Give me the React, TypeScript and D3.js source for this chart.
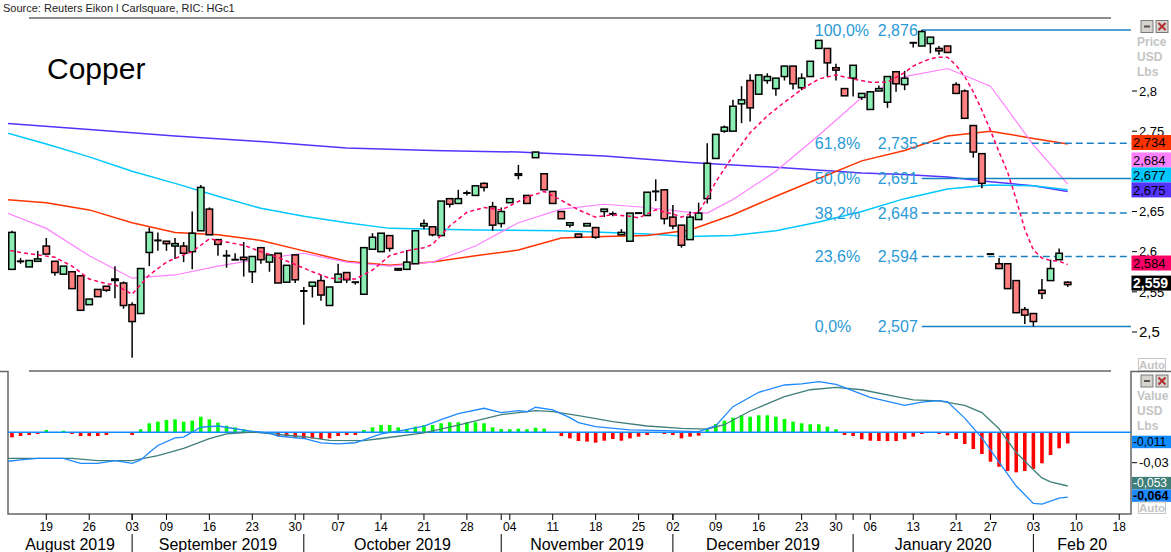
import React from "react";
import * as d3 from "d3";

const WIDTH = 1171;
const HEIGHT = 552;
const FONT = "'Liberation Sans', Arial, sans-serif";

// trading calendar (COMEX holidays skipped)
const calendarStart = "2019-08-12";
const calendarEnd = "2020-02-21";
const holidays = ["2019-09-02", "2019-11-28", "2019-12-25", "2020-01-01", "2020-01-20", "2020-02-17"];
const firstCandle = "2019-08-13";
// offsets in the indicator arrays count trading days from this date
const anchorDay = "2019-08-19";
const monthLabels = ["August 2019", "September 2019", "October 2019", "November 2019", "December 2019", "January 2020", "Feb 20"];

// HGc1 daily candles, USD/lb, from 2019-08-13
const open = [2.578, 2.588, 2.581, 2.588, 2.607, 2.588, 2.572, 2.575, 2.570, 2.534, 2.553, 2.557, 2.566, 2.561, 2.534, 2.523, 2.599, 2.614, 2.613, 2.607, 2.607, 2.600, 2.626, 2.653, 2.615, 2.595, 2.590, 2.593, 2.575, 2.605, 2.587, 2.598, 2.562, 2.596, 2.551, 2.557, 2.564, 2.533, 2.562, 2.574, 2.562, 2.547, 2.603, 2.600, 2.620, 2.577, 2.578, 2.585, 2.632, 2.631, 2.620, 2.666, 2.660, 2.673, 2.670, 2.685, 2.656, 2.635, 2.661, 2.697, 2.670, 2.717, 2.697, 2.675, 2.650, 2.633, 2.622, 2.632, 2.630, 2.650, 2.647, 2.621, 2.613, 2.648, 2.645, 2.675, 2.677, 2.643, 2.633, 2.615, 2.640, 2.666, 2.716, 2.750, 2.750, 2.784, 2.813, 2.796, 2.813, 2.803, 2.818, 2.831, 2.804, 2.818, 2.853, 2.853, 2.829, 2.803, 2.816, 2.792, 2.777, 2.800, 2.786, 2.824, 2.808, 2.860, 2.856, 2.859, 2.853, 2.856, 2.808, 2.800, 2.757, 2.722, 2.597, 2.585, 2.585, 2.564, 2.528, 2.523, 2.552, 2.564, 2.590, 2.562];
const high = [2.626, 2.592, 2.589, 2.601, 2.617, 2.588, 2.582, 2.575, 2.570, 2.541, 2.553, 2.557, 2.582, 2.563, 2.537, 2.579, 2.630, 2.624, 2.613, 2.617, 2.612, 2.650, 2.683, 2.655, 2.615, 2.602, 2.598, 2.612, 2.594, 2.605, 2.596, 2.598, 2.583, 2.596, 2.556, 2.562, 2.571, 2.556, 2.585, 2.574, 2.562, 2.605, 2.623, 2.623, 2.620, 2.579, 2.602, 2.626, 2.640, 2.631, 2.663, 2.666, 2.677, 2.676, 2.682, 2.686, 2.662, 2.655, 2.666, 2.708, 2.670, 2.724, 2.697, 2.675, 2.650, 2.636, 2.622, 2.635, 2.630, 2.653, 2.650, 2.628, 2.648, 2.648, 2.674, 2.690, 2.677, 2.658, 2.633, 2.650, 2.661, 2.735, 2.746, 2.757, 2.789, 2.806, 2.821, 2.820, 2.822, 2.816, 2.831, 2.831, 2.822, 2.837, 2.863, 2.853, 2.834, 2.803, 2.832, 2.797, 2.799, 2.807, 2.818, 2.824, 2.825, 2.860, 2.876, 2.867, 2.856, 2.856, 2.811, 2.802, 2.757, 2.722, 2.597, 2.592, 2.585, 2.564, 2.531, 2.523, 2.566, 2.590, 2.604, 2.563];
const low = [2.578, 2.585, 2.581, 2.588, 2.597, 2.570, 2.572, 2.554, 2.527, 2.534, 2.544, 2.550, 2.542, 2.529, 2.468, 2.523, 2.582, 2.601, 2.601, 2.591, 2.587, 2.578, 2.626, 2.621, 2.595, 2.580, 2.590, 2.569, 2.561, 2.585, 2.575, 2.561, 2.562, 2.561, 2.509, 2.543, 2.539, 2.533, 2.562, 2.561, 2.559, 2.547, 2.603, 2.600, 2.600, 2.577, 2.578, 2.585, 2.628, 2.619, 2.620, 2.655, 2.660, 2.670, 2.670, 2.675, 2.626, 2.630, 2.661, 2.690, 2.660, 2.717, 2.677, 2.660, 2.641, 2.630, 2.618, 2.632, 2.616, 2.643, 2.644, 2.621, 2.613, 2.648, 2.645, 2.663, 2.634, 2.628, 2.605, 2.615, 2.640, 2.660, 2.716, 2.748, 2.750, 2.760, 2.762, 2.796, 2.809, 2.794, 2.813, 2.802, 2.801, 2.818, 2.853, 2.818, 2.813, 2.794, 2.793, 2.789, 2.777, 2.800, 2.779, 2.799, 2.801, 2.854, 2.856, 2.847, 2.845, 2.848, 2.797, 2.766, 2.717, 2.679, 2.597, 2.579, 2.554, 2.524, 2.510, 2.507, 2.541, 2.564, 2.590, 2.556];
const close = [2.624, 2.588, 2.589, 2.591, 2.597, 2.574, 2.582, 2.554, 2.527, 2.541, 2.544, 2.552, 2.565, 2.533, 2.513, 2.579, 2.624, 2.614, 2.610, 2.610, 2.598, 2.623, 2.680, 2.621, 2.609, 2.595, 2.590, 2.590, 2.594, 2.590, 2.596, 2.561, 2.583, 2.565, 2.551, 2.562, 2.546, 2.556, 2.572, 2.565, 2.562, 2.605, 2.618, 2.623, 2.604, 2.579, 2.587, 2.626, 2.635, 2.621, 2.663, 2.659, 2.666, 2.673, 2.682, 2.680, 2.633, 2.650, 2.666, 2.695, 2.660, 2.724, 2.677, 2.660, 2.641, 2.636, 2.618, 2.635, 2.618, 2.653, 2.647, 2.624, 2.648, 2.648, 2.674, 2.675, 2.641, 2.632, 2.608, 2.643, 2.648, 2.710, 2.746, 2.755, 2.781, 2.789, 2.779, 2.820, 2.818, 2.816, 2.831, 2.809, 2.816, 2.837, 2.863, 2.835, 2.826, 2.794, 2.832, 2.797, 2.799, 2.803, 2.818, 2.809, 2.816, 2.860, 2.874, 2.867, 2.850, 2.848, 2.797, 2.766, 2.724, 2.685, 2.597, 2.579, 2.554, 2.524, 2.521, 2.513, 2.548, 2.579, 2.598, 2.559];

// moving averages (day offset from anchorDay, value)
const ma10Day = [-5, -3, -1, 1, 3, 5, 7, 8, 10, 12, 14, 16, 17, 18, 19, 21, 23, 25, 27, 29, 31, 33, 35, 36, 38, 40, 42, 44, 45, 47, 49, 51, 53, 54, 56, 58, 60, 62, 64, 66, 68, 69, 70, 71, 73, 74, 75, 76, 77, 78, 80, 82, 84, 86, 88, 90, 92, 94, 96, 98, 100, 101, 102, 103, 104, 105, 106, 107, 108, 109, 110, 111, 112, 113, 114, 115, 116, 117, 118, 119];
const ma10 = [2.603, 2.599, 2.596, 2.593, 2.582, 2.566, 2.560, 2.559, 2.547, 2.571, 2.587, 2.596, 2.600, 2.608, 2.616, 2.612, 2.608, 2.600, 2.593, 2.584, 2.575, 2.567, 2.566, 2.566, 2.577, 2.595, 2.601, 2.605, 2.609, 2.632, 2.649, 2.655, 2.652, 2.657, 2.668, 2.675, 2.664, 2.652, 2.643, 2.646, 2.644, 2.642, 2.647, 2.652, 2.647, 2.643, 2.647, 2.649, 2.667, 2.687, 2.719, 2.748, 2.769, 2.786, 2.802, 2.815, 2.820, 2.815, 2.811, 2.811, 2.823, 2.831, 2.836, 2.840, 2.842, 2.842, 2.832, 2.818, 2.799, 2.776, 2.751, 2.724, 2.699, 2.665, 2.628, 2.602, 2.592, 2.589, 2.588, 2.584];
const ma20Day = [-5, 0, 5, 10, 15, 20, 25, 30, 35, 40, 45, 50, 55, 60, 65, 70, 75, 77, 80, 85, 90, 95, 100, 105, 110, 115, 119];
const ma20 = [2.650, 2.629, 2.595, 2.567, 2.571, 2.582, 2.591, 2.598, 2.587, 2.582, 2.587, 2.607, 2.636, 2.653, 2.659, 2.655, 2.649, 2.648, 2.665, 2.700, 2.745, 2.792, 2.818, 2.828, 2.806, 2.733, 2.684];
const ma50Day = [-5, 0, 5, 10, 15, 20, 25, 30, 35, 40, 45, 50, 55, 60, 65, 70, 75, 80, 85, 90, 95, 100, 105, 110, 115, 119];
const ma50 = [2.665, 2.661, 2.652, 2.636, 2.624, 2.621, 2.614, 2.601, 2.588, 2.583, 2.587, 2.595, 2.602, 2.617, 2.619, 2.620, 2.627, 2.646, 2.669, 2.691, 2.713, 2.726, 2.744, 2.750, 2.741, 2.734];
const ma100Day = [-5, 0, 5, 10, 15, 20, 25, 30, 35, 40, 50, 60, 70, 75, 80, 85, 90, 95, 100, 105, 110, 115, 119];
const ma100 = [2.749, 2.734, 2.718, 2.700, 2.685, 2.669, 2.654, 2.644, 2.636, 2.629, 2.627, 2.626, 2.622, 2.619, 2.620, 2.626, 2.637, 2.650, 2.666, 2.678, 2.683, 2.682, 2.677];
const ma200Day = [-5, 5, 15, 25, 35, 45, 55, 65, 75, 85, 95, 100, 105, 110, 115, 119];
const ma200 = [2.760, 2.752, 2.744, 2.737, 2.729, 2.726, 2.724, 2.719, 2.711, 2.705, 2.698, 2.696, 2.693, 2.687, 2.682, 2.675];

// Fibonacci retracement, drawn from the 14 Jan high
const fibFrom = "2020-01-14";
const fibLevels = ["100,0%", "61,8%", "50,0%", "38,2%", "23,6%", "0,0%"];
const fibValues = [2.876, 2.735, 2.691, 2.648, 2.594, 2.507];
const fibDashed = [false, true, false, true, true, false];

// MACD panel
const histogram = [-0.005, -0.0037, -0.0027, -0.0017, 0.0023, 0, 0.0016, -0.0017, -0.0037, -0.0037, -0.0037, -0.0027, 0, 0, -0.0027, 0.003, 0.0089, 0.0105, 0.0121, 0.0128, 0.0105, 0.0115, 0.0154, 0.0128, 0.0095, 0.0065, 0.0049, 0.003, 0.0016, 0, 0, -0.0037, -0.0043, -0.005, -0.006, -0.006, -0.0066, -0.006, -0.0037, -0.0027, -0.0027, 0.0023, 0.0049, 0.0072, 0.0072, 0.0049, 0.0033, 0.0056, 0.0072, 0.0072, 0.0089, 0.0099, 0.0099, 0.0099, 0.0099, 0.0089, 0.0049, 0.0033, 0.003, 0.0036, 0.003, 0.0046, 0.0036, 0, -0.0037, -0.006, -0.0086, -0.0092, -0.0102, -0.0083, -0.0066, -0.0083, -0.006, -0.0043, -0.0027, 0, -0.0017, -0.0027, -0.006, -0.0043, -0.0033, 0.003, 0.0082, 0.0115, 0.0144, 0.0168, 0.0154, 0.0168, 0.0168, 0.0154, 0.0131, 0.0105, 0.0089, 0.0079, 0.0079, 0.0056, 0.003, -0.0027, -0.0037, -0.0069, -0.0083, -0.0086, -0.0086, -0.0086, -0.0069, -0.0043, -0.0017, 0, -0.0017, -0.003, -0.0066, -0.0115, -0.0165, -0.0214, -0.029, -0.034, -0.0382, -0.0395, -0.0382, -0.0362, -0.0306, -0.0224, -0.0158, -0.011];
const macdDay = [-5, -3, -1, 2, 4, 6, 8, 10, 11, 12, 13, 15, 16, 18, 20, 22, 24, 26, 27, 30, 32, 34, 36, 37, 39, 41, 44, 46, 48, 51, 53, 55, 56, 57, 59, 61, 62, 64, 68, 72, 76, 78, 80, 83, 86, 88, 90, 92, 93, 96, 100, 102, 104, 105, 107, 109, 111, 113, 115, 116, 118, 119];
const macdLine = [-0.029, -0.0273, -0.0257, -0.0257, -0.0306, -0.0306, -0.028, -0.0306, -0.0273, -0.02, -0.013, -0.0055, -0.0047, 0.005, 0.0062, 0.0035, 0.001, -0.0008, -0.0038, -0.0061, -0.0105, -0.0115, -0.0103, -0.0075, -0.0015, 0.0012, 0.0062, 0.0124, 0.0185, 0.0237, 0.0195, 0.0213, 0.0203, 0.0247, 0.0222, 0.0145, 0.0095, 0.0055, 0.0023, 0.0016, 0.0006, 0.0065, 0.0253, 0.0395, 0.0467, 0.0477, 0.05, 0.0472, 0.044, 0.0345, 0.0265, 0.0298, 0.0312, 0.03, 0.014, -0.0055, -0.0295, -0.053, -0.0701, -0.0708, -0.065, -0.064];
const signalDay = [-5, -1, 3, 6, 10, 13, 16, 19, 21, 24, 28, 30, 33, 37, 39, 44, 48, 53, 57, 59, 62, 66, 70, 74, 77, 79, 82, 86, 89, 92, 95, 99, 101, 104, 107, 109, 111, 113, 115, 116, 117, 119];
const signalLine = [-0.0257, -0.0257, -0.0257, -0.028, -0.028, -0.023, -0.0158, -0.0062, -0.0015, 0.0003, -0.0029, -0.0042, -0.008, -0.0083, -0.0061, -0.0005, 0.007, 0.0175, 0.0213, 0.0205, 0.0165, 0.0106, 0.0062, 0.0038, 0.0032, 0.0075, 0.021, 0.0352, 0.042, 0.0444, 0.042, 0.0353, 0.0319, 0.0311, 0.0265, 0.0195, 0.0035, -0.02, -0.037, -0.045, -0.049, -0.053];

// only the tick labels the reference leaves visible
const priceTicks = [2.5, 2.55, 2.6, 2.65, 2.75, 2.8];
const macdTicks = [-0.03];

const C = {
  up: "#8ceeb4",
  down: "#ff8080",
  ma10: "#ff0066",
  ma20: "#ff80ff",
  ma50: "#ff3300",
  ma100: "#00c8ff",
  ma200: "#5533ff",
  fibLine: "#1a80c4",
  fibText: "#2b9ad6",
  macd: "#1e88ff",
  signal: "#3f7f7a",
  zero: "#0f8cff",
  histUp: "#00ff00",
  histDown: "#ff0000",
  frame: "#666666",
  gray: "#c4c4c4",
};

const locale = d3.formatLocale({ decimal: ",", thousands: ".", grouping: [3], currency: ["", ""], minus: "-" });
const f3 = locale.format(".3f");
const fTick = locale.format("~g");

const parseDay = d3.utcParse("%Y-%m-%d");
const fmtDay = d3.utcFormat("%Y-%m-%d");
const tradingDays = d3
  .utcDays(parseDay(calendarStart)!, d3.utcDay.offset(parseDay(calendarEnd)!, 1))
  .filter((d) => d.getUTCDay() % 6 !== 0 && !holidays.includes(fmtDay(d)));
const dayPos = (s: string) => tradingDays.findIndex((d) => fmtDay(d) === s);

// plot frame
const plotL = 8;
const plotR = 1131;
const mainT = 18;
const mainB = 370;
const lowT = 371.5;
const lowB = 514;

type Box = { value: number; text: string; bg: string; fg: string; bold?: boolean; ideal: number };

// stack overlapping value boxes upward from the lowest one
function layoutBoxes(boxes: Box[], h: number) {
  const sorted = [...boxes].sort((a, b) => a.ideal - b.ideal);
  const out: (Box & { y: number })[] = [];
  let group: Box[] = [];
  const flush = () => {
    const bottom = group[group.length - 1].ideal + h / 2;
    group.forEach((b, i) => out.push({ ...b, y: bottom - (group.length - i) * h }));
    group = [];
  };
  sorted.forEach((b) => {
    if (group.length && b.ideal - group[group.length - 1].ideal >= h) flush();
    group.push(b);
  });
  if (group.length) flush();
  return out;
}

function WindowIcons({ y }: { y: number }) {
  return (
    <g>
      <rect x={1141} y={y} width={12} height={12} fill="#d6d3ce" stroke="#7a7a7a" />
      <rect x={1144} y={y + 5} width={6} height={2} fill="#555" />
      <rect x={1156} y={y} width={12} height={12} fill="#d6d3ce" stroke="#7a7a7a" />
      <path d={`M${1158.5},${y + 2.5}L${1165.5},${y + 9.5}M${1165.5},${y + 2.5}L${1158.5},${y + 9.5}`} stroke="#b03030" strokeWidth={2} />
    </g>
  );
}

export default function App() {
  const a0 = dayPos(anchorDay);
  const c0 = dayPos(firstCandle);
  const x = d3.scaleLinear().domain([a0, dayPos("2020-02-10")]).range([46.3, 1076.3]);
  const py = d3.scaleLinear().domain([2.5, 2.8]).range([332, 91]);
  const my = d3.scaleLinear().domain([0, -0.03]).range([432.3, 462.7]);

  const path = (days: number[], vals: number[], y: d3.ScaleLinear<number, number>) =>
    d3
      .line<number>()
      .x((_, i) => x(a0 + days[i]))
      .y((v) => y(v))(vals) ?? "";

  const weekStarts = tradingDays
    .map((_, i) => i)
    .filter((i) => i > 0 && +d3.utcMonday.floor(tradingDays[i]) !== +d3.utcMonday.floor(tradingDays[i - 1]))
    .filter((i) => x(i) > 20 && x(i) < plotR - 5);
  const monthStarts = tradingDays
    .map((_, i) => i)
    .filter((i) => i > 0 && tradingDays[i].getUTCMonth() !== tradingDays[i - 1].getUTCMonth());
  const monthEdges = [plotL, ...monthStarts.map((i) => x(i)), plotR];

  const last = (a: number[]) => a[a.length - 1];
  const mainBoxes = layoutBoxes(
    [
      { value: last(ma50), bg: C.ma50, fg: "#000" },
      { value: last(ma20), bg: C.ma20, fg: "#000" },
      { value: last(ma100), bg: C.ma100, fg: "#000" },
      { value: last(ma200), bg: C.ma200, fg: "#000" },
      { value: last(ma10), bg: C.ma10, fg: "#000" },
      { value: last(close), bg: "#000", fg: "#fff", bold: true },
    ].map((b) => ({ ...b, text: f3(b.value), ideal: py(b.value) - 1.5 })),
    15
  );
  const lowBoxes = layoutBoxes(
    [
      { value: last(histogram), bg: C.zero, fg: "#000" },
      { value: last(signalLine), bg: C.signal, fg: "#fff" },
      { value: last(macdLine), bg: C.macd, fg: "#000", bold: true },
    ].map((b) => ({ ...b, text: f3(b.value), ideal: my(b.value) - 1.5 })),
    12.5
  );

  const xFib = x(dayPos(fibFrom));
  const bw = 6.4;

  return (
    <svg width={WIDTH} height={HEIGHT} style={{ position: "absolute", left: 0, top: 0, background: "#fff" }} fontFamily={FONT}>
      <defs>
        <clipPath id="mainClip">
          <rect x={plotL} y={mainT} width={plotR - plotL} height={mainB - mainT} />
        </clipPath>
        <clipPath id="lowClip">
          <rect x={plotL} y={lowT} width={plotR - plotL} height={lowB - lowT} />
        </clipPath>
      </defs>

      <text x={3} y={12} fontSize={11} fill="#222">
        Source: Reuters Eikon l Carlsquare, RIC: HGc1
      </text>
      <line x1={29} x2={1111} y1={mainT} y2={mainT} stroke={C.frame} strokeWidth={1.5} />
      <text x={47} y={79} fontSize={30} fill="#000">
        Copper
      </text>

      {/* main panel */}
      <g clipPath="url(#mainClip)">
        <path d={path(ma200Day, ma200, py)} fill="none" stroke={C.ma200} strokeWidth={1.5} />
        <path d={path(ma100Day, ma100, py)} fill="none" stroke={C.ma100} strokeWidth={1.5} />
        <path d={path(ma50Day, ma50, py)} fill="none" stroke={C.ma50} strokeWidth={1.5} />
        <path d={path(ma20Day, ma20, py)} fill="none" stroke={C.ma20} strokeWidth={1.2} />
        {fibValues.map((v, i) => (
          <line
            key={i}
            x1={xFib}
            x2={plotR}
            y1={py(v)}
            y2={py(v)}
            stroke={C.fibLine}
            strokeWidth={1.5}
            strokeDasharray={fibDashed[i] ? "7,4" : undefined}
          />
        ))}
        {open.map((o, i) => {
          const cx = x(c0 + i);
          const c = close[i];
          const top = py(Math.max(o, c));
          const bot = py(Math.min(o, c));
          return (
            <g key={i}>
              <line x1={cx} x2={cx} y1={py(high[i])} y2={py(low[i])} stroke="#000" strokeWidth={1.5} />
              {o === c ? (
                <line x1={cx - bw / 2 - 0.5} x2={cx + bw / 2 + 0.5} y1={top} y2={top} stroke="#000" strokeWidth={2} />
              ) : (
                <rect
                  x={cx - bw / 2}
                  y={top}
                  width={bw}
                  height={Math.max(bot - top, 1.5)}
                  fill={c > o ? C.up : C.down}
                  stroke="#000"
                  strokeWidth={1.5}
                />
              )}
            </g>
          );
        })}
        <path d={path(ma10Day, ma10, py)} fill="none" stroke={C.ma10} strokeWidth={1.5} strokeDasharray="4,3" />
      </g>

      {fibValues.map((v, i) => (
        <g key={i} fontSize={16} fill={C.fibText}>
          <text x={xFib - 107} y={py(v)} dy="0.36em">
            {fibLevels[i]}
          </text>
          <text x={xFib - 4} y={py(v)} dy="0.36em" textAnchor="end">
            {f3(v)}
          </text>
        </g>
      ))}

      {/* price axis */}
      <WindowIcons y={20.5} />
      {["Price", "USD", "Lbs"].map((t, i) => (
        <text key={t} x={1137} y={42 + i * 15} dy="0.36em" fontSize={12} fontWeight="bold" fill={C.gray}>
          {t}
        </text>
      ))}
      {priceTicks.map((t) => (
        <g key={t}>
          <line x1={1132} x2={1137} y1={py(t)} y2={py(t)} stroke="#000" />
          <text x={1139} y={py(t)} dy="0.36em" fontSize={t === 2.5 ? 15 : 13} fill="#000">
            {fTick(t)}
          </text>
        </g>
      ))}
      {mainBoxes.map((b, i) => (
        <g key={i}>
          <rect x={1131.5} y={b.y} width={WIDTH - 1131.5} height={15} fill={b.bg} />
          <text x={1133} y={b.y + 7.5} dy="0.36em" fontSize={b.bold ? 14 : 13} fontWeight={b.bold ? "bold" : "normal"} fill={b.fg}>
            {b.text}
          </text>
        </g>
      ))}
      <rect x={1138.5} y={358.5} width={27} height={12} fill="#fff" stroke={C.gray} />
      <text x={1152} y={364.5} dy="0.36em" textAnchor="middle" fontSize={11.5} fontWeight="bold" fill={C.gray}>
        Auto
      </text>

      {/* MACD panel */}
      <line x1={29} x2={1111} y1={lowT - 0.5} y2={lowT - 0.5} stroke={C.frame} strokeWidth={1.5} />
      <path d={`M0,${lowT}H${plotL}V${lowB}H${plotR}V${lowT}H${WIDTH}`} fill="none" stroke={C.frame} strokeWidth={1.5} />
      <g clipPath="url(#lowClip)">
        {histogram.map((v, i) =>
          v === 0 ? null : (
            <rect
              key={i}
              x={x(c0 + i) - 1.8}
              y={Math.min(my(v), my(0))}
              width={3.6}
              height={Math.abs(my(v) - my(0))}
              fill={v > 0 ? C.histUp : C.histDown}
            />
          )
        )}
        <line x1={plotL} x2={plotR} y1={my(0)} y2={my(0)} stroke={C.zero} strokeWidth={1.5} />
        <path d={path(signalDay, signalLine, my)} fill="none" stroke={C.signal} strokeWidth={1.3} />
        <path d={path(macdDay, macdLine, my)} fill="none" stroke={C.macd} strokeWidth={1.3} />
      </g>

      <WindowIcons y={375} />
      {["Value", "USD", "Lbs"].map((t, i) => (
        <text key={t} x={1137} y={396 + i * 15} dy="0.36em" fontSize={12} fontWeight="bold" fill={C.gray}>
          {t}
        </text>
      ))}
      {macdTicks.map((t) => (
        <g key={t}>
          <line x1={1132} x2={1137} y1={my(t)} y2={my(t)} stroke="#000" />
          <text x={1139} y={my(t)} dy="0.36em" fontSize={13} fill="#000">
            {fTick(t)}
          </text>
        </g>
      ))}
      {lowBoxes.map((b, i) => (
        <g key={i}>
          <rect x={1132} y={b.y} width={WIDTH - 1132} height={12.5} fill={b.bg} />
          <text x={1133} y={b.y + 6.25} dy="0.34em" fontSize={b.bold ? 12.5 : 12} fontWeight={b.bold ? "bold" : "normal"} fill={b.fg}>
            {b.text}
          </text>
        </g>
      ))}
      <rect x={1138.5} y={502} width={27} height={11.5} fill="#fff" stroke={C.gray} />
      <text x={1152} y={507.8} dy="0.36em" textAnchor="middle" fontSize={11.5} fontWeight="bold" fill={C.gray}>
        Auto
      </text>

      {/* time axis */}
      {weekStarts.map((i) => (
        <g key={i}>
          <line x1={x(i)} x2={x(i)} y1={lowB} y2={lowB + 6} stroke="#000" />
          <text x={x(i)} y={530.5} textAnchor="middle" fontSize={12} fill="#000">
            {d3.utcFormat("%d")(tradingDays[i])}
          </text>
        </g>
      ))}
      {monthStarts.map((i) => (
        <g key={i}>
          <line x1={x(i)} x2={x(i)} y1={lowB} y2={lowB + 6} stroke="#000" />
          <line x1={x(i)} x2={x(i)} y1={534} y2={HEIGHT} stroke="#000" />
        </g>
      ))}
      {monthLabels.map((m, i) => (
        <text key={m} x={(monthEdges[i] + monthEdges[i + 1]) / 2} y={550} textAnchor="middle" fontSize={16} fill="#000">
          {m}
        </text>
      ))}
    </svg>
  );
}
